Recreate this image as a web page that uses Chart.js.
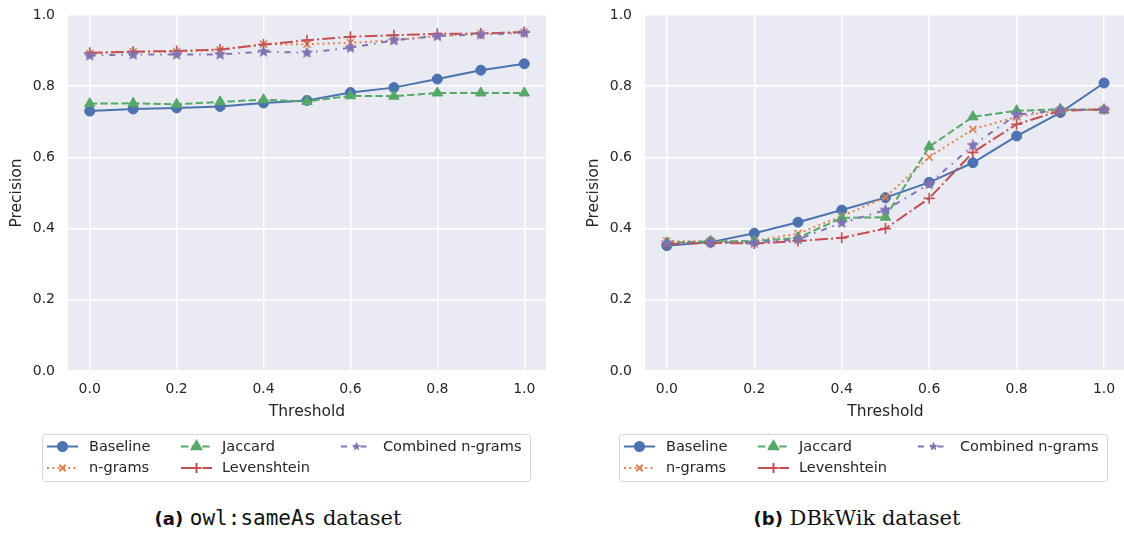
<!DOCTYPE html>
<html>
<head>
<meta charset="utf-8">
<script src="https://cdn.jsdelivr.net/npm/chart.js@4.4.1/dist/chart.umd.min.js"></script>
<style>
  body { margin: 0; background: #fff; width: 1124px; height: 538px; position: relative; overflow: hidden; }
  canvas { position: absolute; top: 0; }
  #c1 { left: 0; }
  #c2 { left: 577px; }
  .cap { position: absolute; top: 506px; font-family: "DejaVu Serif", serif; font-size: 21px; color: #111; white-space: nowrap; transform: translateX(-50%); }
  .cap b { font-family: "DejaVu Sans", sans-serif; font-size: 18px; }
  .cap code { font-family: "DejaVu Sans Mono", monospace; font-size: 21px; }
</style>
</head>
<body>
<canvas id="c1" width="560" height="490"></canvas>
<canvas id="c2" width="556" height="490"></canvas>
<div class="cap" style="left:278px"><b>(a)</b> <code>owl:sameAs</code> dataset</div>
<div class="cap" style="left:857px"><b>(b)</b> DBkWik dataset</div>
<script>
const thresholds = [0.0, 0.1, 0.2, 0.3, 0.4, 0.5, 0.6, 0.7, 0.8, 0.9, 1.0];
const seriesNames = ['Baseline', 'n-grams', 'Jaccard', 'Levenshtein', 'Combined n-grams'];

// owl:sameAs dataset
const sameAsBaseline = [0.730, 0.736, 0.739, 0.743, 0.753, 0.760, 0.782, 0.796, 0.820, 0.845, 0.863];
const sameAsNgrams   = [0.892, 0.897, 0.897, 0.902, 0.918, 0.918, 0.922, 0.929, 0.941, 0.948, 0.952];
const sameAsJaccard  = [0.751, 0.752, 0.749, 0.756, 0.762, 0.757, 0.773, 0.772, 0.781, 0.781, 0.781];
const sameAsLev      = [0.894, 0.897, 0.899, 0.903, 0.917, 0.929, 0.939, 0.943, 0.947, 0.948, 0.952];
const sameAsCombined = [0.886, 0.889, 0.889, 0.889, 0.897, 0.894, 0.908, 0.929, 0.941, 0.945, 0.950];

// DBkWik dataset
const dbkBaseline = [0.352, 0.362, 0.387, 0.418, 0.452, 0.487, 0.530, 0.585, 0.660, 0.726, 0.809];
const dbkNgrams   = [0.365, 0.364, 0.365, 0.386, 0.435, 0.488, 0.601, 0.679, 0.714, 0.733, 0.735];
const dbkJaccard  = [0.360, 0.364, 0.365, 0.374, 0.430, 0.432, 0.630, 0.714, 0.731, 0.735, 0.733];
const dbkLev      = [0.357, 0.360, 0.358, 0.365, 0.374, 0.400, 0.485, 0.614, 0.693, 0.731, 0.735];
const dbkCombined = [0.360, 0.362, 0.360, 0.370, 0.416, 0.452, 0.525, 0.634, 0.720, 0.733, 0.735];

const yTicks = [0.0, 0.2, 0.4, 0.6, 0.8, 1.0];
const xTicks = [0.0, 0.2, 0.4, 0.6, 0.8, 1.0];

const colors = ['#4C72B0', '#DD8452', '#55A868', '#C44E52', '#8172B3'];
const dashes = [[], [2, 3.3], [7.4, 3.2], [12.8, 3.2, 2, 3.2], [6, 6, 1.5, 6]];

function starImage(color, r) {
  const c = document.createElement('canvas');
  const s = Math.ceil(r * 2 + 2);
  c.width = s; c.height = s;
  const g = c.getContext('2d');
  g.fillStyle = color;
  g.beginPath();
  for (let i = 0; i < 10; i++) {
    const rad = i % 2 === 0 ? r : r * 0.45;
    const a = -Math.PI / 2 + i * Math.PI / 5;
    const px = s / 2 + rad * Math.cos(a), py = s / 2 + rad * Math.sin(a);
    if (i === 0) g.moveTo(px, py); else g.lineTo(px, py);
  }
  g.closePath();
  g.fill();
  return c;
}

const pointStyles = ['circle', 'crossRot', 'triangle', 'cross', starImage(colors[4], 6.5)];
const pointRadii = [5, 5, 6, 5.5, 6];

function makeDatasets(values) {
  return values.map((vals, i) => ({
    label: seriesNames[i],
    data: vals,
    borderColor: colors[i],
    backgroundColor: colors[i],
    borderWidth: 2,
    borderDash: dashes[i],
    pointStyle: pointStyles[i],
    pointRadius: pointRadii[i],
    pointBorderWidth: i === 1 || i === 3 ? 1.6 : 1,
    pointBorderColor: colors[i],
    pointBackgroundColor: colors[i],
    tension: 0,
    fill: false,
    order: 10 - i
  }));
}

const legendBox = {
  id: 'legendBox',
  afterDraw(chart) {
    const ctx = chart.ctx;
    const bx = 42, by = 434, bw = 488, bh = 47;
    ctx.save();
    ctx.fillStyle = 'rgba(255,255,255,0.8)';
    ctx.strokeStyle = '#d5d5d5';
    ctx.lineWidth = 1;
    ctx.beginPath();
    ctx.roundRect(bx + 0.5, by + 0.5, bw, bh, 3);
    ctx.fill();
    ctx.stroke();
    const colSample = [5, 139, 299];
    const colText = [47, 180, 341];
    ctx.font = '14.5px "DejaVu Sans"';
    ctx.textBaseline = 'middle';
    chart.data.datasets.forEach((ds, i) => {
      const col = Math.floor(i / 2), row = i % 2;
      const y = by + 12.5 + row * 21.5;
      const x0 = bx + colSample[col];
      ctx.strokeStyle = ds.borderColor;
      ctx.lineWidth = 2;
      ctx.setLineDash(ds.borderDash);
      ctx.beginPath();
      ctx.moveTo(x0, y);
      ctx.lineTo(x0 + 31, y);
      ctx.stroke();
      ctx.setLineDash([]);
      const style = ds.pointStyle;
      if (style instanceof HTMLCanvasElement) {
        const r = 5.5;
        ctx.drawImage(style, x0 + 15.5 - r, y - r, r * 2, r * 2);
      } else {
        ctx.fillStyle = ds.backgroundColor;
        ctx.strokeStyle = ds.borderColor;
        Chart.helpers.drawPoint(ctx, {
          pointStyle: style, radius: ds.pointRadius * 0.9, rotation: 0,
          borderWidth: ds.pointBorderWidth
        }, x0 + 15.5, y);
      }
      ctx.fillStyle = '#262626';
      ctx.fillText(ds.label, bx + colText[col], y + 0.5);
    });
    ctx.restore();
  }
};

const plotBg = {
  id: 'plotBg',
  beforeDraw(chart) {
    const a = chart.chartArea, ctx = chart.ctx;
    ctx.save();
    ctx.fillStyle = '#EAEAF2';
    ctx.fillRect(a.left, a.top, a.right - a.left, a.bottom - a.top);
    ctx.restore();
  }
};

function makeChart(id, values, padRight) {
  return new Chart(document.getElementById(id), {
    type: 'line',
    data: { datasets: makeDatasets(values.map(v => v.map((y, k) => ({ x: thresholds[k], y })))) },
    plugins: [plotBg, legendBox],
    options: {
      responsive: false,
      animation: false,
      layout: { padding: { left: 0, top: 15, right: padRight, bottom: 69 } },
      plugins: { legend: { display: false }, tooltip: { enabled: false } },
      scales: {
        x: {
          type: 'linear', min: -0.05, max: 1.05,
          afterFit(s) { s.height = 50; s.paddingLeft = 0; s.paddingRight = 0; },
          afterBuildTicks(s) { s.ticks = xTicks.map(v => ({ value: v })); },
          grid: { color: '#ffffff', lineWidth: 1.5, drawTicks: false },
          border: { display: false },
          ticks: { padding: 10, color: '#262626', font: { family: 'DejaVu Sans', size: 14 }, callback: v => v.toFixed(1) },
          title: { display: true, text: 'Threshold', color: '#262626', font: { family: 'DejaVu Sans', size: 15.5 }, padding: { top: 2, bottom: 0 } }
        },
        y: {
          min: 0, max: 1,
          afterFit(s) { s.width = 68; s.paddingTop = 0; s.paddingBottom = 0; },
          afterBuildTicks(s) { s.ticks = yTicks.map(v => ({ value: v })); },
          grid: { color: '#ffffff', lineWidth: 1.5, drawTicks: false },
          border: { display: false },
          ticks: { padding: 13, color: '#262626', font: { family: 'DejaVu Sans', size: 14 }, callback: v => v.toFixed(1) },
          title: { display: true, text: 'Precision', color: '#262626', font: { family: 'DejaVu Sans', size: 15.5 }, padding: { top: 8, bottom: 0 } }
        }
      }
    }
  });
}

makeChart('c1', [sameAsBaseline, sameAsNgrams, sameAsJaccard, sameAsLev, sameAsCombined], 14);
makeChart('c2', [dbkBaseline, dbkNgrams, dbkJaccard, dbkLev, dbkCombined], 0);
</script>
</body>
</html>
